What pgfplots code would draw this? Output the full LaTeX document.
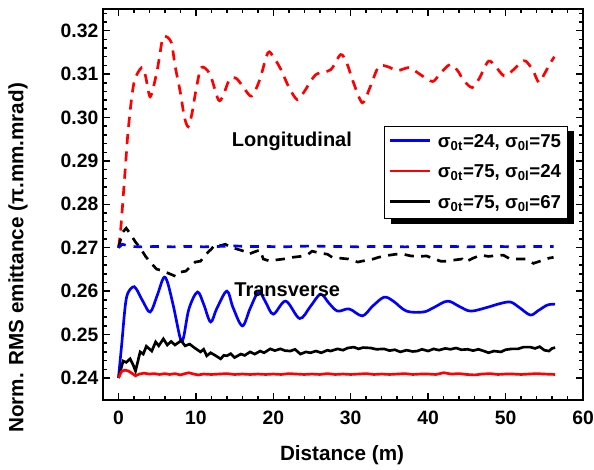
\documentclass[border=0pt]{standalone}
\usepackage{pgfplots}
\pgfplotsset{compat=1.18}
\usepackage{fontspec}
\setmainfont{Liberation Sans}
\begin{document}
\begin{tikzpicture}
\begin{axis}[
  name=ax,
  scale only axis,
  width=360pt, height=293pt,
  xmin=-2, xmax=60, ymin=0.235, ymax=0.325,
  xtick={0,10,...,60},
  ytick={0.24,0.25,...,0.325},
  minor x tick num=4, minor y tick num=4,
  tick align=inside,
  major tick length=5pt, minor tick length=2.8pt,
  every tick/.style={line width=1.1pt, black},
  axis line style={line width=1.4pt},
  tick label style={font=\fontsize{14.5}{17}\selectfont\bfseries},
  /pgf/number format/assume math mode=true,
  y tick label style={/pgf/number format/fixed, /pgf/number format/fixed zerofill, /pgf/number format/precision=2},
  x tick label style={yshift=-5pt, inner xsep=0pt},
  xlabel={Distance (m)},
  ylabel={Norm. RMS emittance (π.mm.mrad)},
  label style={font=\fontsize{15.5}{18}\selectfont\bfseries},
  xlabel style={at={(axis description cs:0.498,-0.143)}, anchor=center},
  ylabel style={at={(axis description cs:-0.177,0.363)}, anchor=center},
  legend style={at={(rel axis cs:0.969,0.70)}, anchor=north east, draw=black, line width=0.6pt,
    fill=white, font=\fontsize{14}{17}\selectfont\bfseries, row sep=7.5pt,
    inner xsep=3pt, inner ysep=4pt,
    /tikz/every odd column/.append style={column sep=3pt}},
  legend cell align=left,
  legend image code/.code={\draw[#1, line width=2pt] (0pt,1pt) -- (30pt,1pt);},
]
\addlegendimage{blue}
\addlegendimage{red}
\addlegendimage{black}
\legend{{σ\textsubscript{0t}=24, σ\textsubscript{0l}=75},
        {σ\textsubscript{0t}=75, σ\textsubscript{0l}=24},
        {σ\textsubscript{0t}=75, σ\textsubscript{0l}=67}}

% legend shadow, drawn before the legend (which is painted over it in white)
\fill[black] ([xshift=4.5pt,yshift=-3.75pt]rel axis cs:0.5875,0.462) rectangle ([xshift=4.5pt,yshift=-3.75pt]rel axis cs:0.969,0.70);

% Longitudinal, sigma0t=75, sigma0l=24 (red dashed)
\addplot[forget plot, red, line width=2pt, dash pattern=on 7.5pt off 5.5pt, smooth, tension=0.5] coordinates {
(0,0.2700) (0.3,0.2745) (0.9,0.2888) (1.3,0.2980) (2.0,0.3080) (3.0,0.3115) (3.5,0.3095)
(4.1,0.3048) (4.9,0.3100) (5.3,0.3140) (5.8,0.3186) (6.8,0.3174) (7.3,0.3120) (8.0,0.3057)
(8.5,0.3002) (9.0,0.2979) (9.5,0.3010) (10.0,0.3062) (10.7,0.3115) (11.8,0.3100) (12.9,0.3041)
(13.5,0.3050) (14.3,0.3087) (14.9,0.3092) (15.5,0.3085) (17.0,0.3050) (17.6,0.3060) (18.3,0.3090)
(19.3,0.3149) (20.0,0.3140) (21.0,0.3110) (22.0,0.3070) (23.1,0.3041) (24.0,0.3060) (25.5,0.3099)
(27.4,0.3110) (28.7,0.3145) (29.5,0.3125) (30.3,0.3083) (31.5,0.3034) (32.5,0.3070) (33.6,0.3117)
(34.8,0.3117) (36.0,0.3108) (37.5,0.3115) (38.5,0.3105) (39.4,0.3094) (40.6,0.3083) (41.5,0.3100)
(42.8,0.3122) (43.8,0.3108) (44.6,0.3085) (45.7,0.3069) (46.6,0.3090) (47.8,0.3130) (48.8,0.3115)
(49.8,0.3096) (50.7,0.3105) (52.0,0.3127) (52.6,0.3130) (53.5,0.3110) (54.3,0.3081) (55.0,0.3100)
(55.8,0.3126) (56.3,0.3140)
};

% Longitudinal, sigma0t=75, sigma0l=67 (black dashed)
\addplot[forget plot, black, line width=2pt, dash pattern=on 7pt off 5.5pt] coordinates {
(0,0.2700) (0.5,0.2735) (1.0,0.2745) (1.6,0.2730) (2.2,0.2713) (2.8,0.2700) (3.5,0.2680)
(4.2,0.2665) (4.9,0.2651) (5.8,0.2646) (6.6,0.2640) (7.4,0.2634) (8.0,0.2644) (8.7,0.2646)
(9.9,0.2667) (10.6,0.2669) (11.3,0.2685) (12.0,0.2697) (12.5,0.2708) (13.2,0.2705) (13.8,0.2708)
(14.5,0.2701) (15.3,0.2697) (16.2,0.2692) (16.8,0.2685) (17.5,0.2690) (18.3,0.2695) (18.7,0.2674)
(19.6,0.2669) (20.4,0.2672) (21.3,0.2674) (22.5,0.2678) (23.5,0.2680) (24.5,0.2685) (25.0,0.2692)
(26.0,0.2688) (27.0,0.2685) (27.6,0.2678) (28.6,0.2676) (29.7,0.2674) (30.9,0.2667) (32.0,0.2671)
(32.9,0.2674) (33.6,0.2678) (34.7,0.2682) (35.8,0.2685) (36.8,0.2685) (37.8,0.2681) (38.8,0.2680)
(39.8,0.2681) (40.7,0.2675) (41.6,0.2669) (42.5,0.2669) (43.5,0.2672) (44.4,0.2674) (44.8,0.2667)
(45.8,0.2676) (46.8,0.2683) (47.8,0.2680) (48.8,0.2682) (49.7,0.2683) (50.6,0.2674) (51.6,0.2674)
(52.6,0.2674) (53.6,0.2664) (54.6,0.2670) (55.6,0.2676) (56.2,0.2678)
};

% Longitudinal, sigma0t=24, sigma0l=75 (blue dashed)
\addplot[forget plot, blue, line width=2pt, dash pattern=on 6.5pt off 6pt] coordinates {
(0,0.2700) (0.5,0.2708) (1.5,0.2703) (3,0.2702) (5,0.2703) (7,0.2702) (9,0.2703) (11,0.2702)
(13,0.2703) (15,0.2704) (17,0.2703) (19,0.2703) (21,0.2702) (23,0.2703) (25,0.2704) (27,0.2703)
(29,0.2703) (31,0.2702) (33,0.2703) (35,0.2703) (37,0.2702) (39,0.2703) (41,0.2703) (43,0.2703)
(45,0.2702) (47,0.2703) (49,0.2703) (51,0.2702) (53,0.2703) (55,0.2703) (56.2,0.2703)
};

% Transverse, sigma0t=24, sigma0l=75 (blue solid)
\addplot[forget plot, blue, line width=2pt, smooth, tension=0.55] coordinates {
(0,0.2400) (0.4,0.2474) (1.0,0.2582) (1.8,0.2609) (2.3,0.2605) (3.2,0.2575) (4.1,0.2552)
(5.0,0.2590) (5.8,0.2630) (6.3,0.2622) (7.1,0.2565) (8.0,0.2490) (8.4,0.2493) (9.1,0.2559)
(10.2,0.2598) (11.0,0.2570) (11.9,0.2529) (12.7,0.2560) (14.0,0.2600) (14.8,0.2562) (16.0,0.2520)
(17.0,0.2560) (18.1,0.2598) (19.0,0.2575) (20.0,0.2547) (21.6,0.2577) (23.4,0.2537) (24.8,0.2565)
(26.1,0.2593) (27.2,0.2572) (28.3,0.2554) (29.8,0.2559) (31.5,0.2543) (32.8,0.2565) (34.3,0.2586)
(35.5,0.2577) (37.2,0.2554) (39.4,0.2552) (40.7,0.2562) (42.5,0.2577) (44.0,0.2565) (45.5,0.2554)
(47.7,0.2563) (49.0,0.2570) (50.6,0.2575) (51.8,0.2562) (53.2,0.2545) (54.2,0.2555) (55.4,0.2568)
(56.4,0.2570)
};

% Transverse, sigma0t=75, sigma0l=67 (black solid)
\addplot[forget plot, black, line width=2pt] coordinates {
(0,0.2400) (0.6,0.2439) (1.0,0.2436) (1.5,0.2444) (1.9,0.2430) (2.2,0.2416) (2.8,0.2460)
(3.2,0.2455) (3.6,0.2473) (4.3,0.2462) (4.8,0.2483) (5.2,0.2474) (5.8,0.2490) (6.3,0.2476)
(6.8,0.2484) (7.3,0.2476) (8.1,0.2486) (8.6,0.2474) (9.2,0.2478) (9.7,0.2471) (10.1,0.2466)
(10.6,0.2460) (11.0,0.2466) (11.4,0.2451) (11.9,0.2458) (12.4,0.2453) (13.2,0.2444) (13.6,0.2452)
(14.0,0.2451) (14.5,0.2456) (15.0,0.2447) (15.8,0.2455) (16.3,0.2452) (17.0,0.2460) (17.6,0.2455)
(18.3,0.2462) (18.8,0.2458) (19.6,0.2467) (20.2,0.2463) (20.9,0.2467) (21.5,0.2463) (22.2,0.2462)
(22.8,0.2466) (23.5,0.2455) (24.2,0.2460) (24.8,0.2458) (25.5,0.2462) (26.2,0.2458) (27.0,0.2464)
(27.4,0.2462) (28.3,0.2467) (29.0,0.2464) (29.6,0.2469) (30.4,0.2471) (31.0,0.2467) (31.6,0.2470)
(32.6,0.2469) (33.3,0.2466) (34.3,0.2467) (35.0,0.2463) (35.7,0.2465) (36.4,0.2460) (37.2,0.2464)
(38.0,0.2461) (38.6,0.2462) (39.2,0.2466) (40.0,0.2462) (40.7,0.2467) (41.4,0.2464) (42.2,0.2468)
(42.9,0.2466) (43.6,0.2469) (44.3,0.2465) (45.1,0.2466) (45.8,0.2463) (46.5,0.2466) (47.2,0.2462)
(47.8,0.2458) (48.5,0.2462) (49.4,0.2460) (50.0,0.2465) (50.8,0.2467) (51.6,0.2467) (52.3,0.2471)
(53.2,0.2471) (53.8,0.2468) (54.4,0.2472) (55.0,0.2464) (55.6,0.2462) (56.0,0.2468) (56.4,0.2470)
};

% Transverse, sigma0t=75, sigma0l=24 (red solid)
\addplot[forget plot, red, line width=2pt] coordinates {
(0,0.2400) (0.4,0.2415) (0.8,0.2418) (1.3,0.2416) (1.8,0.2410) (2.2,0.2405) (2.7,0.2409)
(3.3,0.2411) (4.0,0.2409) (4.6,0.2410) (5.3,0.2408) (6.0,0.2410) (6.6,0.2408) (7.3,0.2410)
(8.0,0.2407) (8.6,0.2410) (9.1,0.2412) (9.7,0.2409) (10.3,0.2407) (11.0,0.2409) (12.0,0.2408)
(13.0,0.2409) (14.0,0.2410) (15.0,0.2408) (16.0,0.2409) (17.0,0.2408) (18.0,0.2409) (19.0,0.2408)
(20.0,0.2409) (21.0,0.2408) (22.0,0.2410) (23.0,0.2409) (24.0,0.2408) (25.0,0.2409) (26.0,0.2408)
(27.0,0.2410) (28.0,0.2408) (29.0,0.2409) (30.0,0.2408) (31.0,0.2409) (32.0,0.2410) (33.0,0.2408)
(34.0,0.2409) (35.0,0.2408) (36.0,0.2409) (37.0,0.2410) (38.0,0.2408) (39.0,0.2409) (40.0,0.2409)
(41.0,0.2408) (42.0,0.2412) (43.0,0.2409) (44.0,0.2410) (45.0,0.2408) (46.0,0.2407) (47.0,0.2409)
(48.0,0.2410) (49.0,0.2408) (50.0,0.2409) (51.0,0.2409) (52.0,0.2408) (53.0,0.2409) (54.0,0.2410)
(55.0,0.2409) (56.4,0.2408)
};

\node[font=\fontsize{15}{17}\selectfont\bfseries] at (axis cs:22.4,0.2945) {Longitudinal};
\node[font=\fontsize{15}{17}\selectfont\bfseries] at (axis cs:21.8,0.2603) {Transverse};
\end{axis}
\path (ax.south west) ++(-77.25pt,-51pt) coordinate (bbl);
\path (ax.north east) ++(8.25pt,6.75pt) coordinate (bbr);
\path (bbl) (bbr);
\end{tikzpicture}
\end{document}
